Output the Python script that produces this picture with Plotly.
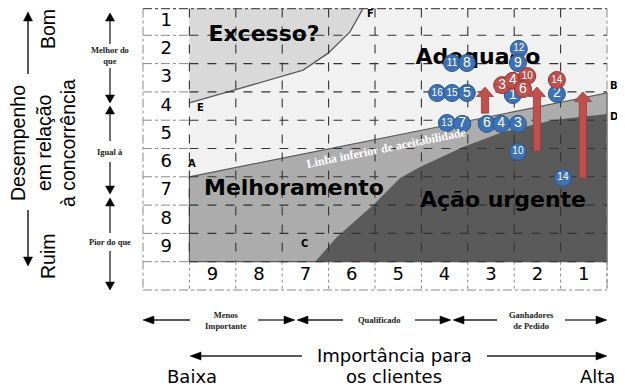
import plotly.graph_objects as go

# ---------------- data ----------------
perf_labels = ["1", "2", "3", "4", "5", "6", "7", "8", "9"]
imp_labels = ["9", "8", "7", "6", "5", "4", "3", "2", "1"]

blue_ids = ["12", "9", "11", "8", "16", "15", "5", "1", "2", "13", "7", "6", "4", "3", "10", "14"]
blue_imp = [2.40, 2.42, 3.84, 3.52, 4.16, 3.84, 3.52, 2.53, 1.58, 3.95, 3.62, 3.09, 2.78, 2.42, 2.42, 1.45]
blue_perf = [1.98, 2.48, 2.48, 2.48, 3.54, 3.54, 3.54, 3.61, 3.57, 4.60, 4.63, 4.63, 4.63, 4.63, 5.62, 6.54]

red_ids = ["3", "4", "10", "14", "6"]
red_imp = [2.76, 2.53, 2.22, 1.58, 2.31]
red_perf = [3.26, 3.11, 2.94, 3.08, 3.40]

arrow_imp = [3.13, 2.01, 1.02]
arrow_from = [4.25, 5.59, 6.54]
arrow_to = [3.33, 3.33, 3.50]

excess_imp = [9.5, 8.52, 7.05, 6.51, 6.04, 5.76]
excess_perf = [3.89, 3.43, 2.73, 2.13, 1.38, 0.5]

accept_imp = [9.5, 0.5]
accept_perf = [6.5, 3.54]

urgent_imp = [6.79, 6.32, 5.54, 4.96, 4.53, 3.60, 2.74, 1.66, 0.5]
urgent_perf = [9.5, 8.63, 7.5, 6.54, 6.15, 5.45, 4.92, 4.49, 4.28]

zone_names = ["Excesso?", "Adequado", "Melhoramento", "Ação urgente"]

# ---------------- geometry helpers ----------------
UX, UY = 46.4, 28.3  # pixels per unit
OFF = 8  # page body margin


def IX(px):
    return 10.5 - (px - 143) / UX


def PY(py):
    return (py - 7) / UY + 0.5


def pth(pts):
    return "M " + " L ".join(f"{x:.4f},{y:.4f}" for x, y in pts) + " Z"


def open_pth(pts):
    return "M " + " L ".join(f"{x:.4f},{y:.4f}" for x, y in pts)


shapes = []


def poly(pts, fill, line_color=None, lw=0, layer="below"):
    shapes.append(dict(type="path", xref="x", yref="y", path=pth(pts), fillcolor=fill,
                       line=dict(color=line_color or fill, width=lw), layer=layer))


def seg(x0, y0, x1, y1, color, width=1, dash="solid", layer="below"):
    shapes.append(dict(type="line", xref="x", yref="y", x0=x0, y0=y0, x1=x1, y1=y1,
                       line=dict(color=color, width=width, dash=dash), layer=layer))


def pseg(x0, y0, x1, y1, color="#222", width=1.3):
    seg(IX(x0), PY(y0), IX(x1), PY(y1), color, width, layer="above")


def ptri(tx, ty, direction, length=8, half=4.5, color="#000"):
    if direction == "up":
        pts = [(tx, ty), (tx - half, ty + length), (tx + half, ty + length)]
    elif direction == "down":
        pts = [(tx, ty), (tx - half, ty - length), (tx + half, ty - length)]
    elif direction == "left":
        pts = [(tx, ty), (tx + length, ty - half), (tx + length, ty + half)]
    else:
        pts = [(tx, ty), (tx - length, ty - half), (tx - length, ty + half)]
    poly([(IX(x), PY(y)) for x, y in pts], color, color, 0.5, layer="above")


# ---------------- regions ----------------
TOP = PY(8.6)  # top edge visible inside the page
poly([(9.5, TOP), (0.5, TOP), (0.5, 9.5), (9.5, 9.5)], "#f1f1f1")
poly([(9.5, TOP)] + list(zip(excess_imp[:-1], excess_perf[:-1])) + [(excess_imp[-1], TOP)], "#d9d9d9")
shapes.append(dict(type="path", xref="x", yref="y",
                   path=open_pth(list(zip(excess_imp[:-1], excess_perf[:-1])) + [(excess_imp[-1], TOP)]),
                   line=dict(color="#5a5a5a", width=1.3), layer="below"))
poly(list(zip(accept_imp, accept_perf)) + [(0.5, 9.5), (9.5, 9.5)], "#acacac", "#5a5a5a", 1.2)
poly(list(zip(urgent_imp, urgent_perf)) + [(0.5, 9.5)], "#5a5a5a")

# ---------------- grid ----------------
grid_dark = "#333333"
grid_light = "#8a8a8a"
for k in range(1, 10):
    v = k + 0.5
    seg(v, TOP, v, 9.5, grid_dark, 1.1, "dash")
for k in range(1, 9):
    v = k + 0.5
    seg(9.5, v, 0.5, v, grid_dark, 1.1, "dash")
    seg(10.5, v, 9.5, v, grid_light, 1, "dashdot")
seg(9.5, 9.5, 0.5, 9.5, grid_dark, 1.1, "dash")
seg(10.5, 9.5, 9.5, 9.5, grid_light, 1, "dashdot")
for k in range(0, 9):
    v = k + 0.5
    seg(v, 9.5, v, 10.5, grid_light, 1, "dot")
seg(9.5, 9.5, 9.5, 10.5, grid_light, 1, "dot")
# outer frame
seg(10.5, TOP, 0.5, TOP, "#555", 1.2, "dashdot")
seg(10.5, 10.5, 0.5, 10.5, grid_light, 1, "dashdot")
seg(10.5, TOP, 10.5, 10.5, grid_light, 1, "dashdot")
seg(0.5, TOP, 0.5, 10.5, grid_light, 1, "dashdot")

# ---------------- red improvement arrows ----------------
for a_x, a_from, a_to in zip(arrow_imp, arrow_from, arrow_to):
    sh = 3.6 / UX
    hh = 8.5 / UX
    hl = 9.5 / UY
    pts = [(a_x + sh, a_from), (a_x + sh, a_to + hl), (a_x + hh, a_to + hl), (a_x, a_to),
           (a_x - hh, a_to + hl), (a_x - sh, a_to + hl), (a_x - sh, a_from)]
    poly(pts, "#c0504d", "#9c3a37", 0.8, layer="above")

# ---------------- side / bottom decorations ----------------
pseg(28, 20, 28, 74, "#222", 1.5); ptri(28, 12, "up", 9, 4.5)
pseg(28, 210, 28, 258, "#222", 1.5); ptri(28, 266, "down", 9, 4.5)
pseg(110, 20, 110, 44); ptri(110, 13, "up")
pseg(110, 68, 110, 96); ptri(110, 103, "down")
ptri(110, 106, "up"); pseg(110, 113, 110, 141)
pseg(110, 162, 110, 187); ptri(110, 194, "down")
ptri(110, 198, "up"); pseg(110, 205, 110, 233)
pseg(110, 251, 110, 283); ptri(110, 290, "down")
pseg(150, 320, 190, 320); ptri(143, 320, "left", 11, 4)
pseg(258, 320, 285, 320); ptri(295, 320, "right", 11, 4)
pseg(308, 320, 343, 320); ptri(297, 320, "left", 11, 4)
pseg(415, 320, 441, 320); ptri(451, 320, "right", 11, 4)
pseg(464, 320, 497, 320); ptri(453, 320, "left", 11, 4)
pseg(565, 320, 597, 320); ptri(607, 320, "right", 11, 4)
pseg(200, 356, 302, 356); ptri(190, 356, "left", 11, 4)
pseg(487, 356, 597, 356); ptri(607, 356, "right", 11, 4)

# ---------------- traces ----------------
fig = go.Figure()

zone_px = [(264, 35), (478, 58), (294, 189), (503, 201)]
fig.add_trace(go.Scatter(
    x=[IX(p[0]) for p in zone_px], y=[PY(p[1]) for p in zone_px],
    mode="text", text=[f"<b>{z}</b>" for z in zone_names],
    textfont=dict(family="DejaVu Sans", size=22, color="#000"),
    textposition="middle center", hoverinfo="skip", showlegend=False, cliponaxis=False))

fig.add_trace(go.Scatter(
    x=[10.0] * len(perf_labels), y=[i + 1 for i in range(len(perf_labels))],
    mode="text", text=perf_labels, textfont=dict(family="DejaVu Sans", size=18, color="#000"),
    textposition="middle center", hoverinfo="skip", showlegend=False, cliponaxis=False))
fig.add_trace(go.Scatter(
    x=[int(v) for v in imp_labels], y=[10.0] * len(imp_labels),
    mode="text", text=imp_labels, textfont=dict(family="DejaVu Sans", size=18, color="#000"),
    textposition="middle center", hoverinfo="skip", showlegend=False, cliponaxis=False))

fig.add_trace(go.Scatter(
    x=blue_imp, y=blue_perf, mode="markers+text", text=blue_ids,
    marker=dict(size=17, color="#3d72b5", line=dict(color="#2b578d", width=1)),
    textfont=dict(family="Liberation Sans", color="white", size=[10 if len(t) > 1 else 14 for t in blue_ids]),
    textposition="middle center", hoverinfo="skip", showlegend=False, cliponaxis=False))
fig.add_trace(go.Scatter(
    x=red_imp, y=red_perf, mode="markers+text", text=red_ids,
    marker=dict(size=17, color="#c0504d", line=dict(color="#933634", width=1)),
    textfont=dict(family="Liberation Sans", color="white", size=[10 if len(t) > 1 else 14 for t in red_ids]),
    textposition="middle center", hoverinfo="skip", showlegend=False, cliponaxis=False))

# ---------------- annotations ----------------
ann = []


def note(px, py, text, size, family="Liberation Sans", color="#000", angle=0, bold=False):
    ann.append(dict(x=IX(px), y=PY(py), xref="x", yref="y", text=f"<b>{text}</b>" if bold else text,
                    showarrow=False, textangle=angle, font=dict(family=family, size=size, color=color),
                    xanchor="center", yanchor="middle", borderpad=0))


note(386, 148, "Linha inferior de aceitabilidade", 12, "Liberation Serif", "white", -11.4, True)
for lbl, px, py in [("A", 192, 163), ("B", 614, 85), ("C", 304, 243), ("D", 614, 116), ("E", 200, 107), ("F", 370, 13)]:
    note(px, py, lbl, 10, "DejaVu Sans", bold=True)

note(18, 143, "Desempenho", 19.5, angle=-90)
note(44, 143, "em relação", 19.5, angle=-90)
note(68, 143, "à concorrência", 19.5, angle=-90)
note(48, 29, "Bom", 19.5, angle=-90)
note(48, 256, "Ruim", 19.5, angle=-90)

note(110, 55, "Melhor do<br>que", 8.5, "Liberation Serif", "#222", bold=True)
note(110, 152, "Igual à", 8.5, "Liberation Serif", "#222", bold=True)
note(110, 242, "Pior do que", 8.5, "Liberation Serif", "#222", bold=True)
note(226, 320, "Menos<br>Importante", 8.5, "Liberation Serif", "#222", bold=True)
note(379, 320, "Qualificado", 8.5, "Liberation Serif", "#222", bold=True)
note(531, 320, "Ganhadores<br>de Pedido", 8.5, "Liberation Serif", "#222", bold=True)

note(394, 355, "Importância para", 18, "DejaVu Sans")
note(394, 376, "os clientes", 18, "DejaVu Sans")
note(192, 376, "Baixa", 18, "DejaVu Sans")
note(597, 376, "Alta", 18, "DejaVu Sans")

fig.update_layout(
    width=625 - OFF, height=391 - OFF, autosize=False,
    margin=dict(l=0, r=0, t=0, b=0),
    paper_bgcolor="white", plot_bgcolor="white",
    shapes=shapes, annotations=ann, showlegend=False,
    xaxis=dict(range=[IX(OFF), IX(625)], visible=False, showgrid=False, zeroline=False, fixedrange=True),
    yaxis=dict(range=[PY(391), PY(OFF)], visible=False, showgrid=False, zeroline=False, fixedrange=True),
)

fig.write_html("out.html")
